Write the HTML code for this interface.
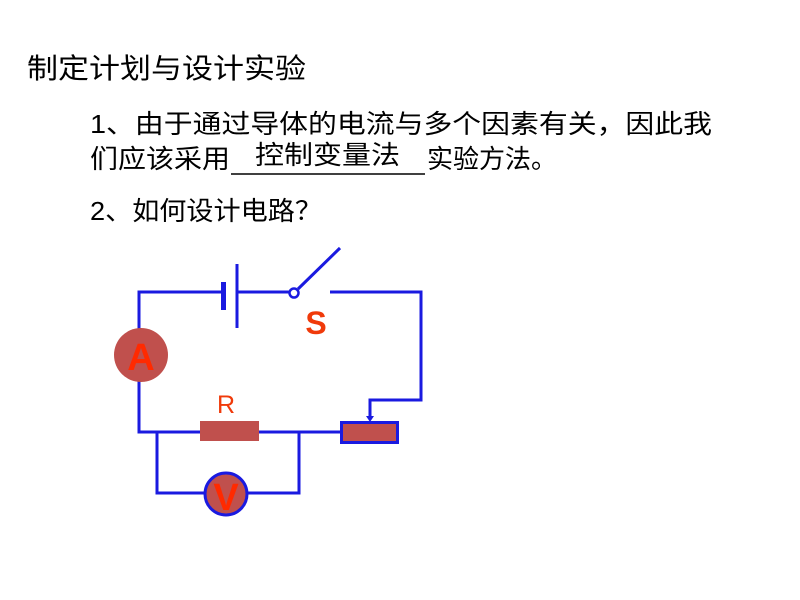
<!DOCTYPE html>
<html><head><meta charset="utf-8"><style>
html,body{margin:0;padding:0;background:#fff;}
svg{display:block;}
text{font-family:"Liberation Sans","Noto Sans CJK SC",sans-serif;}
</style></head><body>
<svg width="800" height="600" viewBox="0 0 800 600" xmlns="http://www.w3.org/2000/svg">
<rect width="800" height="600" fill="#fff"/>
<text x="27" y="78" font-size="28" textLength="279" lengthAdjust="spacingAndGlyphs" fill="#000">制定计划与设计实验</text>
<text x="90" y="133" font-size="26" textLength="622" lengthAdjust="spacingAndGlyphs" fill="#000">1、由于通过导体的电流与多个因素有关，因此我</text>
<text x="90" y="168" font-size="26" textLength="140" lengthAdjust="spacingAndGlyphs" fill="#000">们应该采用</text>
<text x="255" y="164" font-size="26" textLength="145" lengthAdjust="spacingAndGlyphs" fill="#000">控制变量法</text>
<line x1="231" y1="174" x2="425" y2="174" stroke="#000" stroke-width="1.5"/>
<text x="427" y="168" font-size="26" textLength="130" lengthAdjust="spacingAndGlyphs" fill="#000">实验方法。</text>
<text x="90" y="220" font-size="26" textLength="232" lengthAdjust="spacingAndGlyphs" fill="#000">2、如何设计电路？</text>

<g stroke="#1a1ae0" stroke-width="3" fill="none">
<polyline points="223,292 139,292 139,432 340,432"/>
<line x1="237" y1="292" x2="290" y2="292"/>
<polyline points="330,292 421,292 421,400 370,400 370,418"/>
<polyline points="157,432 157,493 299,493 299,432"/>
<line x1="237" y1="264" x2="237" y2="328"/>
<line x1="298" y1="289" x2="340" y2="248"/>
</g>
<rect x="221" y="282" width="5" height="28" fill="#1a1ae0"/>
<polygon points="366,416 374,416 370,422" fill="#1a1ae0"/>
<circle cx="294" cy="293" r="4.5" fill="#fff" stroke="#1a1ae0" stroke-width="2.5"/>
<text x="316" y="334" font-size="32" font-weight="bold" text-anchor="middle" fill="#f03a0a">S</text>
<circle cx="141" cy="355" r="27" fill="#c0504d"/>
<text x="141" y="370" font-size="38" font-weight="bold" text-anchor="middle" fill="#ff2a00">A</text>
<rect x="200" y="421" width="59" height="20" fill="#c0504d"/>
<text x="226" y="413" font-size="25" text-anchor="middle" fill="#f03a0a">R</text>
<rect x="341.5" y="422.5" width="56" height="20" fill="#c0504d" stroke="#1a1ae0" stroke-width="3"/>
<circle cx="226" cy="494" r="21" fill="#c0504d" stroke="#1a1ae0" stroke-width="3"/>
<text x="226" y="510" font-size="38" font-weight="bold" text-anchor="middle" fill="#ff2a00">V</text>
</svg>
</body></html>
